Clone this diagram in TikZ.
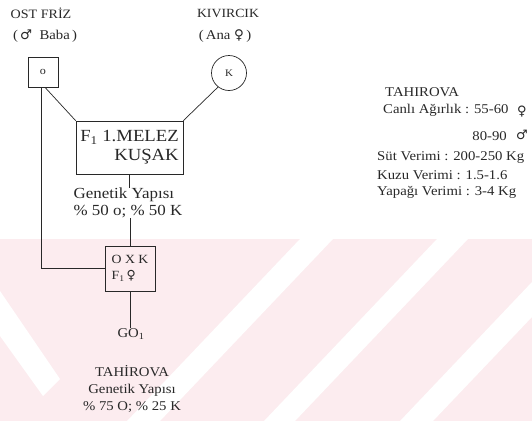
\documentclass[tikz,border=0pt]{standalone}
\usepackage{fontspec}
\setmainfont{Liberation Serif}[FakeStretch=1.1]
\newfontfamily\symf{DejaVu Sans}
\definecolor{wmpink}{RGB}{252,236,239}
\definecolor{ink}{RGB}{40,40,40}
\begin{document}
\begin{tikzpicture}[x=1pt,y=-1pt,
  lbl/.style={inner sep=0pt, text=ink, font=\fontsize{13.4}{17}\selectfont},
  gfont/.style={inner sep=0pt, text=ink, font=\fontsize{15.4}{17}\selectfont},
  ln/.style={draw=ink, line width=0.7pt},
  boxn/.style={draw=ink, line width=0.7pt, text=ink, inner sep=0pt},
  sym/.style={inner sep=0pt, text=ink, font=\symf\fontsize{13}{15}\selectfont}]
% canvas and watermark
\fill[white] (0,0) rectangle (532,421);
\useasboundingbox (0,0) rectangle (532,421);
\fill[wmpink] (0,239) rectangle (532,421);
\fill[white] (300,239) -- (333,239) -- (160,421) -- (127,421) -- cycle;
\fill[white] (437,239) -- (468,239) -- (295,421) -- (264,421) -- cycle;
\fill[white] (532,282) -- (532,317) -- (433,421) -- (400,421) -- cycle;
\fill[white] (0,291) -- (60,379) -- (43,396) -- (0,336) -- cycle;
% parents
\node[lbl, font=\fontsize{12.8}{15}\selectfont] (ost) at (41,13) {OST FRİZ};
\node[lbl] (baba) at (45,36) {(\,{\symf ♂}\; Baba\,)};
\node[boxn, minimum size=30pt, font=\fontsize{11}{13}\selectfont] (o) at (43,72) {o};
\node[lbl, font=\fontsize{12.5}{15}\selectfont] (kiv) at (228,13) {KIVIRCIK};
\node[lbl] (ana) at (225,36) {(\,Ana\;{\symf ♀}\,)};
\node[boxn, circle, minimum size=35pt, font=\fontsize{10}{12}\selectfont] (k) at (229,73) {K};
% F1 box
\node[boxn, minimum width=107pt, minimum height=53pt, align=right, font=\fontsize{17}{19}\selectfont] (f1) at (129.5,147.5) {F\textsubscript{1} 1.MELEZ\\KUŞAK};
\node[gfont, align=left, anchor=north] (gen) at (128,188) {Genetik Yapısı\\\% 50 o; \% 50 K};
% second box
\node[boxn, minimum width=50pt, minimum height=45pt, align=left, font=\fontsize{12.5}{16}\selectfont] (f1b) at (130,268.5) {O X K\\F\textsubscript{1}\,{\symf ♀}};
\node[lbl] (go) at (131,334) {GO\textsubscript{1}};
\node[lbl, align=center, anchor=north] (tah) at (132,365) {TAHİROVA\\Genetik Yapısı\\\% 75 O; \% 25 K};
% right block
\node[lbl, anchor=west] (t1) at (385,92) {TAHIROVA};
\node[lbl, anchor=west] (t2) at (383,110) {Canlı Ağırlık : 55-60};
\node[sym] (fem) at (522,112) {♀};
\node[lbl, anchor=east] (t3) at (507,136) {80-90};
\node[sym] (mal) at (522,135) {♂};
\node[lbl, anchor=west] (t4) at (377,157) {Süt Verimi : 200-250 Kg};
\node[lbl, anchor=west] (t5) at (377,175) {Kuzu Verimi : 1.5-1.6};
\node[lbl, anchor=west] (t6) at (377,192) {Yapağı Verimi : 3-4 Kg};
% connectors
\draw[ln] ([xshift=-2pt]o.south) |- (f1b.west);
\draw[ln] ([xshift=2pt]o.south) -- (f1.north west);
\draw[ln] (k.232) -- (f1.north east);
\draw[ln] (f1.south) -- (f1.south |- gen.north);
\draw[ln] (f1b.north |- gen.south) -- (f1b.north);
\draw[ln] (f1b.south) -- (f1b.south |- go.north);
\end{tikzpicture}
\end{document}
